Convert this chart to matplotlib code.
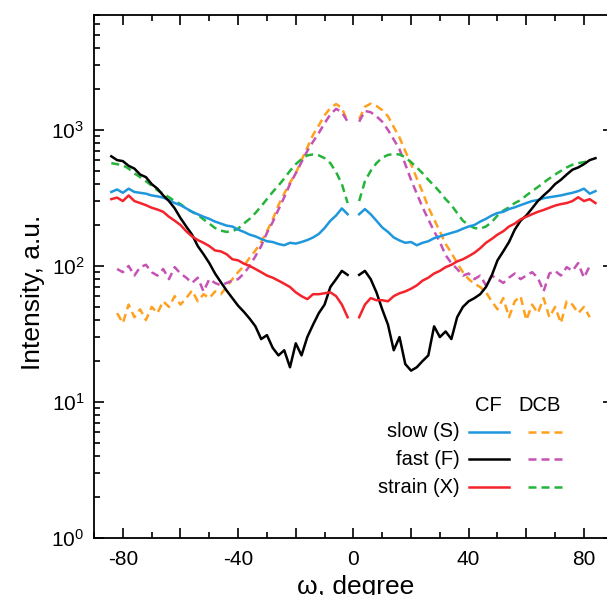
import numpy as np
import matplotlib
matplotlib.use('Agg')
import matplotlib.pyplot as plt
from matplotlib.ticker import MultipleLocator, FuncFormatter, LogLocator, LogFormatterMathtext

plt.rcParams['font.family'] = ['Liberation Sans', 'DejaVu Sans']
plt.rcParams['mathtext.default'] = 'regular'
plt.rcParams['axes.unicode_minus'] = False

# omega grid, left and right of the beam stop gap
w_left = np.arange(-84, -1, 2)
w_right = np.arange(2, 85, 2)
nan = np.nan

# CF curves
slow_cf_l = [350, 365, 345, 370, 350, 345, 340, 330, 325, 318, 305, 290, 280, 265, 250, 240, 230, 222, 212, 205, 198,
             195, 185, 178, 170, 165, 158, 152, 150, 145, 142, 148, 146, 150, 155, 162, 172, 190, 215, 235, 265, 240]
slow_cf_r = [240, 262, 240, 215, 192, 178, 162, 154, 148, 150, 142, 148, 152, 160, 165, 170, 175, 180, 188, 195, 200,
             212, 222, 235, 245, 250, 262, 270, 280, 290, 300, 305, 315, 320, 325, 330, 338, 345, 355, 370, 340, 355]
fast_cf_l = [640, 600, 590, 545, 520, 470, 450, 400, 370, 330, 300, 265, 225, 195, 170, 140, 122, 105, 88, 76, 66,
             58, 51, 46, 41, 36, 29, 31, 25, 22, 24, 18, 27, 22, 30, 37, 45, 52, 70, 80, 92, 86]
fast_cf_r = [86, 92, 80, 64, 48, 37, 24, 30, 19, 17, 18, 20, 22, 36, 30, 33, 29, 42, 50, 55, 58,
             62, 70, 85, 110, 128, 150, 185, 215, 235, 265, 300, 330, 360, 400, 430, 470, 510, 530, 560, 600, 620]
strain_cf_l = [310, 318, 300, 330, 300, 290, 280, 268, 260, 250, 230, 215, 200, 180, 165, 155, 148, 140, 130, 128, 122,
               112, 110, 104, 100, 95, 90, 85, 82, 78, 74, 70, 64, 60, 57, 62, 62, 63, 64, 60, 52, 42]
strain_cf_r = [42, 52, 58, 56, 56, 55, 60, 63, 65, 68, 72, 78, 82, 88, 92, 98, 102, 108, 112, 118, 125,
               135, 148, 158, 170, 180, 195, 205, 220, 230, 240, 250, 258, 268, 278, 285, 290, 300, 320, 300, 310, 290]

# DCB curves
slow_dcb_l = [nan, 45, 38, 52, 42, 48, 40, 50, 45, 55, 50, 60, 52, 58, 66, 55, 62, 58, 65, 62, 70,
              80, 90, 100, 115, 130, 150, 180, 220, 280, 340, 410, 480, 600, 740, 920, 1080, 1280, 1450, 1550, 1450, 1150]
slow_dcb_r = [1200, 1480, 1560, 1500, 1400, 1260, 1050, 880, 700, 560, 440, 350, 270, 220, 180, 145, 125, 105, 90, 80, 74,
              70, 64, 55, 48, 58, 42, 55, 60, 40, 52, 45, 58, 42, 50, 38, 55, 52, 45, 50, 42, nan]
fast_dcb_l = [nan, 95, 90, 100, 85, 98, 102, 90, 85, 95, 80, 98, 88, 82, 75, 82, 65, 80, 75, 72, 75,
              78, 80, 88, 100, 118, 140, 175, 210, 260, 320, 400, 480, 580, 700, 820, 950, 1120, 1300, 1430, 1350, 1150]
fast_dcb_r = [1150, 1380, 1350, 1260, 1150, 1000, 850, 720, 560, 430, 340, 270, 220, 180, 150, 120, 105, 95, 85, 88, 80,
              85, 72, 85, 80, 75, 82, 88, 80, 85, 90, 82, 65, 88, 92, 85, 98, 92, 105, 82, 100, nan]
strain_dcb_l = [570, 560, 550, 520, 480, 450, 420, 390, 360, 340, 320, 300, 285, 265, 250, 238, 220, 205, 190, 182, 178,
                180, 188, 205, 222, 245, 275, 310, 350, 390, 440, 500, 560, 610, 650, 660, 650, 620, 570, 490, 400, 290]
strain_dcb_r = [300, 420, 500, 570, 625, 655, 665, 660, 630, 580, 530, 480, 430, 390, 350, 310, 280, 245, 215, 200, 190,
                188, 195, 210, 235, 255, 270, 290, 305, 330, 355, 380, 410, 440, 470, 500, 530, 555, 570, 580, 590, nan]

names = ['slow (S)', 'fast (F)', 'strain (X)']
cf_colors = ['#1f97dc', 'black', '#f5232b']
dcb_colors = ['#ffa01e', '#c552b5', '#24b43a']
cf_data = [(slow_cf_l, slow_cf_r), (fast_cf_l, fast_cf_r), (strain_cf_l, strain_cf_r)]
dcb_data = [(slow_dcb_l, slow_dcb_r), (fast_dcb_l, fast_dcb_r), (strain_dcb_l, strain_dcb_r)]

lw = 1.8
dash = (3.2, 2.0)

fig = plt.figure(figsize=(6.07, 5.95), dpi=100)
ax = fig.add_axes([0.1549, 0.0958, 0.8546, 0.879])

for (l, r), c in zip(dcb_data, dcb_colors):
    ax.plot(w_left, l, color=c, lw=lw, dashes=dash)
    ax.plot(w_right, r, color=c, lw=lw, dashes=dash)
for (l, r), c in zip(cf_data, cf_colors):
    ax.plot(w_left, l, color=c, lw=lw)
    ax.plot(w_right, r, color=c, lw=lw)

ax.set_yscale('log')
ax.set_xlim(-90, 90)
ax.set_ylim(1, 7000)

ax.xaxis.set_major_locator(MultipleLocator(20))
ax.xaxis.set_minor_locator(MultipleLocator(10))
ax.xaxis.set_major_formatter(FuncFormatter(lambda v, p: '%d' % v if round(v) % 40 == 0 else ''))
ax.yaxis.set_major_locator(LogLocator(base=10, numticks=10))
ax.yaxis.set_minor_locator(LogLocator(base=10, subs=np.arange(2, 10), numticks=20))
ax.yaxis.set_major_formatter(LogFormatterMathtext())

ax.tick_params(which='both', direction='in', top=True, right=True, width=1.2, labelsize=15)
ax.tick_params(axis='x', which='major', length=7, pad=9)
ax.tick_params(axis='x', which='minor', length=4)
ax.tick_params(axis='y', which='major', length=7, pad=7)
ax.tick_params(axis='y', which='minor', length=4)
for s in ax.spines.values():
    s.set_linewidth(1.3)

ax.set_xlabel('ω, degree', fontsize=19)
ax.set_ylabel('Intensity, a.u.', fontsize=19)
ax.xaxis.set_label_coords(0.505, -0.071)
ax.yaxis.set_label_coords(-0.095, 0.47)

# two-column legend drawn by hand
tr = ax.transAxes
ax.text(0.7595, 0.254, 'CF', transform=tr, ha='center', va='center', fontsize=14.5)
ax.text(0.858, 0.254, 'DCB', transform=tr, ha='center', va='center', fontsize=14.5)
rows = [0.2027, 0.151, 0.0975]
for name, yy, c1, c2 in zip(names, rows, cf_colors, dcb_colors):
    ax.text(0.7055, yy, name, transform=tr, ha='right', va='center', fontsize=14.5)
    ax.plot([0.723, 0.800], [yy, yy], transform=tr, color=c1, lw=lw, clip_on=False)
    ax.plot([0.8366, 0.908], [yy, yy], transform=tr, color=c2, lw=lw, dashes=dash, clip_on=False)

fig.savefig('out.png', dpi=100)
